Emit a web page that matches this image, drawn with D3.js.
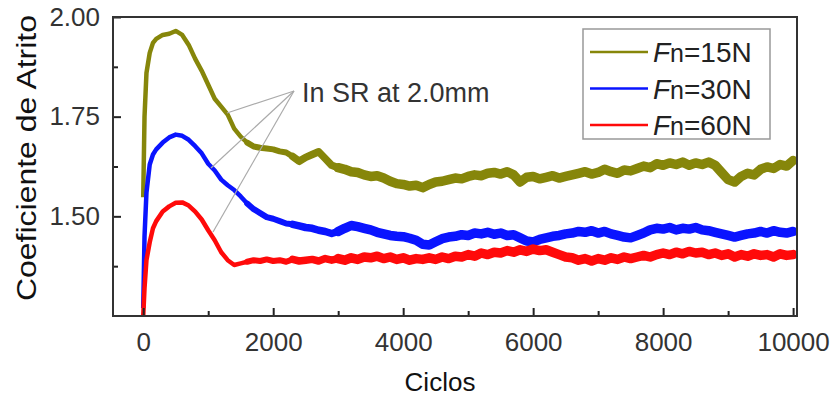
<!DOCTYPE html>
<html>
<head>
<meta charset="utf-8">
<script src="https://cdn.jsdelivr.net/npm/d3@7"></script>
<style>
  body { margin: 0; background: #fff; }
  svg { display: block; font-family: "Liberation Sans", Arial, sans-serif; }
</style>
</head>
<body>
<svg width="835" height="398"></svg>
<script>
// ciclos (x) - same order for all series
var ciclos = [0,20,50,100,150,200,300,400,500,600,700,800,900,
  1000,1100,1200,1300,1400,1500,1600,1700,1800,1900,
  2000,2100,2200,2300,2400,2500,2600,2700,2800,2900,
  3000,3100,3200,3300,3400,3500,3600,3700,3800,3900,
  4000,4100,4200,4300,4400,4500,4600,4700,4800,4900,
  5000,5100,5200,5300,5400,5500,5600,5700,5800,5900,
  6000,6100,6200,6300,6400,6500,6600,6700,6800,6900,
  7000,7100,7200,7300,7400,7500,7600,7700,7800,7900,
  8000,8100,8200,8300,8400,8500,8600,8700,8800,8900,
  9000,9100,9200,9300,9400,9500,9600,9700,9800,9900,
  10000];

var fn15 = [1.548,1.75,1.86,1.91,1.935,1.945,1.955,1.958,1.965,1.955,1.93,1.895,1.865,
  1.83,1.795,1.775,1.755,1.72,1.70,1.685,1.675,1.672,1.670,
  1.668,1.663,1.660,1.650,1.638,1.648,1.655,1.662,1.645,1.628,
  1.622,1.618,1.612,1.610,1.604,1.600,1.602,1.596,1.588,1.582,
  1.580,1.576,1.578,1.572,1.580,1.586,1.588,1.592,1.596,1.594,
  1.600,1.604,1.602,1.608,1.610,1.606,1.612,1.604,1.586,1.598,
  1.600,1.594,1.598,1.602,1.596,1.600,1.604,1.608,1.612,1.606,
  1.610,1.618,1.612,1.608,1.616,1.614,1.620,1.626,1.622,1.632,
  1.628,1.634,1.630,1.636,1.628,1.634,1.630,1.636,1.628,1.610,
  1.592,1.586,1.600,1.608,1.604,1.618,1.624,1.620,1.630,1.626,
  1.640];

var fn30 = [1.27,1.45,1.56,1.63,1.655,1.668,1.685,1.698,1.705,1.702,1.692,1.676,1.658,
  1.632,1.615,1.592,1.578,1.566,1.55,1.532,1.518,1.508,1.498,
  1.494,1.488,1.482,1.480,1.476,1.472,1.470,1.465,1.462,1.457,
  1.462,1.470,1.477,1.474,1.470,1.466,1.460,1.456,1.452,1.450,
  1.449,1.445,1.440,1.430,1.428,1.436,1.444,1.448,1.450,1.454,
  1.452,1.458,1.456,1.460,1.455,1.458,1.452,1.454,1.446,1.438,
  1.436,1.442,1.446,1.450,1.452,1.456,1.458,1.462,1.460,1.464,
  1.458,1.462,1.456,1.452,1.448,1.446,1.452,1.458,1.466,1.470,
  1.468,1.472,1.466,1.470,1.468,1.472,1.466,1.464,1.460,1.456,
  1.452,1.448,1.452,1.456,1.458,1.462,1.458,1.464,1.460,1.458,
  1.462];

var fn60 = [1.25,1.32,1.39,1.435,1.47,1.488,1.512,1.525,1.534,1.535,1.527,1.512,1.492,
  1.465,1.44,1.41,1.39,1.378,1.382,1.386,1.390,1.388,1.392,
  1.388,1.390,1.386,1.392,1.388,1.390,1.392,1.388,1.394,1.390,
  1.394,1.390,1.396,1.392,1.398,1.396,1.400,1.394,1.398,1.392,
  1.396,1.390,1.394,1.392,1.396,1.392,1.398,1.394,1.400,1.398,
  1.404,1.400,1.408,1.404,1.410,1.408,1.414,1.410,1.416,1.412,
  1.418,1.414,1.416,1.410,1.404,1.398,1.396,1.390,1.394,1.388,
  1.394,1.390,1.396,1.392,1.398,1.394,1.398,1.402,1.398,1.404,
  1.408,1.404,1.410,1.406,1.412,1.408,1.410,1.404,1.408,1.402,
  1.406,1.398,1.404,1.400,1.406,1.402,1.404,1.398,1.406,1.402,
  1.404];

var xTicks = [0,2000,4000,6000,8000,10000];
var xMinor = [1000,3000,5000,7000,9000];
var yTicks = [1.50,1.75,2.00];
var yMinor = [1.375,1.625,1.875];
var series = [
  {name: "15N", values: fn15, color: "#86860a"},
  {name: "30N", values: fn30, color: "#0a14ff"},
  {name: "60N", values: fn60, color: "#ff0a0a"}
];
var annot = "In SR at 2.0mm";

var svg = d3.select("svg");
var L = 113, R = 797, T = 17, B = 316;

var x = d3.scaleLinear().domain([-465, 10060]).range([L, R]);
var y = d3.scaleLinear().domain([1.25, 2.0]).range([B, T]);

svg.append("clipPath").attr("id", "plot")
  .append("rect").attr("x", L).attr("y", T).attr("width", R - L).attr("height", B - T);

// curves: thin early part, the noisy band gets wider later on
var bands = [{from: 0, w: 4.5}, {from: 1600, w: 6}, {from: 2300, w: 7.5}, {from: 3000, w: 9.5}];
var gc = svg.append("g").attr("clip-path", "url(#plot)");
series.forEach(function(s) {
  bands.forEach(function(b) {
    var line = d3.line()
      .defined(function(d, i) { return ciclos[i] >= b.from; })
      .x(function(d, i) { return x(ciclos[i]); })
      .y(function(d) { return y(d); });
    gc.append("path")
      .attr("d", line(s.values))
      .attr("fill", "none")
      .attr("stroke", s.color)
      .attr("stroke-width", b.w)
      .attr("stroke-linejoin", "round")
      .attr("stroke-linecap", b.from > 0 ? "round" : "butt");
  });
});

// axes
svg.append("g").attr("transform", "translate(0," + B + ")")
  .call(d3.axisBottom(x).tickValues(xTicks).tickSize(-8).tickPadding(17).tickFormat(d3.format("d")));
svg.append("g").attr("transform", "translate(0," + B + ")")
  .call(d3.axisBottom(x).tickValues(xMinor).tickSize(-5).tickFormat(""));
svg.append("g").attr("transform", "translate(" + L + ",0)")
  .call(d3.axisLeft(y).tickValues(yTicks).tickSize(-8).tickPadding(13).tickFormat(d3.format(".2f")));
svg.append("g").attr("transform", "translate(" + L + ",0)")
  .call(d3.axisLeft(y).tickValues(yMinor).tickSize(-5).tickFormat(""));

svg.selectAll(".domain").remove();
svg.selectAll(".tick line").attr("stroke", "#222").attr("stroke-width", 2);
svg.selectAll(".tick text").attr("fill", "#333").style("font-size", "26px");

svg.append("rect").attr("x", L).attr("y", T).attr("width", R - L).attr("height", B - T)
  .attr("fill", "none").attr("stroke", "#333").attr("stroke-width", 2);

// titles
svg.append("text").attr("x", 440).attr("y", 391).attr("text-anchor", "middle")
  .style("font-size", "26px").attr("fill", "#111").text("Ciclos");
svg.append("text").attr("transform", "translate(36,158) rotate(-90)").attr("text-anchor", "middle")
  .style("font-size", "27px").attr("fill", "#111")
  .attr("textLength", 286).attr("lengthAdjust", "spacingAndGlyphs")
  .text("Coeficiente de Atrito");

// annotation
var ax = 294, ay = 91;
var ends = [[227, 113], [211, 168], [213, 232]];
svg.append("g").selectAll("line").data(ends).enter().append("line")
  .attr("x1", ax).attr("y1", ay).attr("x2", function(d) { return d[0]; }).attr("y2", function(d) { return d[1]; })
  .attr("stroke", "#aaa").attr("stroke-width", 1.2);
svg.append("text").attr("x", 302).attr("y", 102).style("font-size", "27px").attr("fill", "#333").text(annot);

// legend
var lg = svg.append("g");
lg.append("rect").attr("x", 583).attr("y", 29).attr("width", 187).attr("height", 110)
  .attr("fill", "#fff").attr("stroke", "#999").attr("stroke-width", 1.5);
series.forEach(function(s, i) {
  var ry = 52 + i * 36.5;
  lg.append("line").attr("x1", 590).attr("x2", 648).attr("y1", ry).attr("y2", ry)
    .attr("stroke", s.color).attr("stroke-width", 2.5);
  var t = lg.append("text").attr("x", 653).attr("y", ry + 10).style("font-size", "28px").attr("fill", "#222");
  t.append("tspan").style("font-style", "italic").text("F");
  t.append("tspan").style("font-size", "25px").text("n");
  t.append("tspan").text("=" + s.name);
});
</script>
</body>
</html>
